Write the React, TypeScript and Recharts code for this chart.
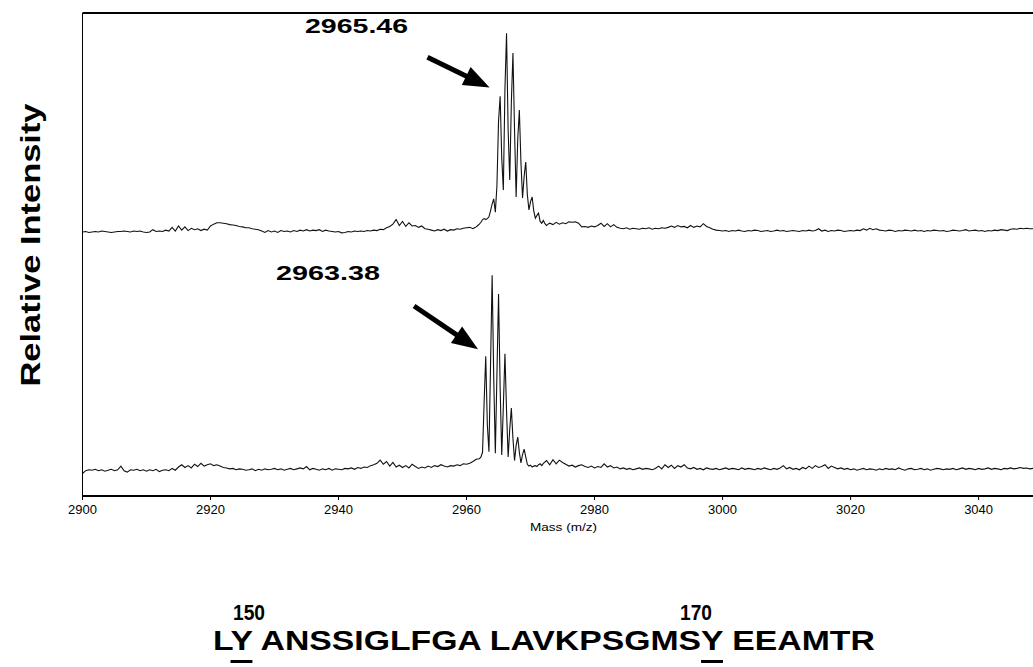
import { LineChart, Line, XAxis, YAxis, ReferenceLine } from 'recharts'

// intensity is in arbitrary units; the axis carries no numbers
const STEP = 0.5
const PEAK_STEP = 0.25

// upper spectrum (2965.46)
const topLeft = [
  539, 540, 538, 539, 540, 539, 541, 540, 539, 538, 539, 540,
  540, 541, 540, 539, 541, 540, 541, 539,
  538, 539, 544, 540, 541, 540, 543, 541,
  549, 541, 552, 543, 550, 542, 547, 544, 546, 542, 545, 543,
  552, 556, 559, 559, 558, 557, 555, 554, 553, 551, 550, 548, 548, 546, 545, 544, 541, 538, 542, 539,
  541, 538, 542, 540, 541, 539, 542, 540, 543, 541, 544, 541, 543, 542, 544, 540, 543, 541, 540, 539,
  540, 537, 538, 540, 539, 541, 540, 541, 540, 542,
  541, 543, 542, 545, 544, 548, 551, 556,
  566, 553, 562, 551, 559, 552, 553, 549, 552, 546, 545, 543,
  541, 544, 542, 545, 541, 544, 543, 546, 545, 547, 548, 549,
]
const topPeak = [
  546, 548, 550, 553, 556, 560, 566, 568, 566, 568, 572, 585,
  600, 611, 582, 640, 780, 834, 700, 630, 850, 971, 760, 652,
  820, 928, 760, 615, 740, 804, 690, 613, 660, 691, 620, 587,
  605, 615, 585, 569, 575, 580, 562, 558, 564, 557, 553, 556,
]
const topRight = [
  558, 555, 560, 556, 559, 557, 561, 560, 561, 558,
  550, 551, 549, 552, 550, 553,
  558, 551, 557, 550, 555, 549,
  547, 546, 548, 545, 547, 546, 545, 547, 546, 548, 545, 547, 546, 548, 547, 549,
  552, 549, 553, 550, 551, 548, 553, 549, 552, 550, 557, 551,
  548, 545, 543, 542,
  541, 542, 540, 542, 541, 543, 541, 540, 542, 541, 543, 542, 540, 541, 542, 540, 541, 543, 541, 542,
  540, 541, 542, 541, 540, 542, 541, 543, 541, 542,
  546, 541, 543, 540, 542, 541, 543, 542, 540, 541, 542, 541, 543, 542,
  546, 543, 547, 544, 546, 543,
  542, 541, 543, 542, 540, 542, 541, 543, 542, 541, 543, 541, 542, 540, 542, 541, 543, 542, 541, 542,
  540, 541, 543, 542, 541, 542, 544, 541, 542, 543, 541, 542, 540, 542, 541, 543, 542, 544, 543, 542,
  545, 546, 545, 547, 546, 547, 546, 546,
]

// lower spectrum (2963.38)
const bottomLeft = [
  14, 20, 22, 21, 23, 20, 22, 19, 21, 23, 20, 22,
  30, 20, 17, 22, 21, 23, 20, 22,
  19, 22, 20, 23, 18, 21, 22, 20,
  25, 21, 28, 33, 27, 31, 26, 34, 29, 36, 30, 33, 35, 31, 33, 30,
  27, 26, 24, 25, 22, 24, 23, 21, 22, 24, 20, 23, 21, 24, 22, 23, 25, 22, 24, 21, 23, 25, 22, 24,
  26, 24, 29, 22, 25, 23, 21, 24,
  22, 25, 21, 24, 23, 22, 25, 24, 26, 23, 27, 25, 28, 27, 31, 33,
  36, 43, 34, 40, 30, 38, 28, 32,
  27, 31, 26, 34, 29, 25, 28, 26, 30, 27, 31, 29, 33, 30, 28, 31,
  30, 33, 31, 35, 34, 36, 40, 45,
]
const bottomPeak = [
  46, 50, 60, 170, 269, 120, 61, 250, 445, 220, 58, 230,
  404, 200, 54, 160, 274, 150, 50, 110, 156, 90, 42, 75,
  93, 60, 37, 55, 67, 50, 34, 30, 32, 28, 30, 31, 29, 33, 35, 31,
]
const bottomRight = [
  36, 42, 33, 44, 35, 43, 38, 34,
  30, 32, 28, 31, 33, 29, 27, 30,
  26, 29, 27, 35, 28, 31, 26, 28,
  24, 26, 23, 25, 22, 24, 26, 23, 25, 24, 22, 25,
  30, 24, 33, 27, 32, 25, 31, 28, 33, 26,
  24, 27, 23, 25, 22, 26, 24, 23, 25, 22, 24, 26, 23, 25, 24, 22, 26, 23, 25, 24, 22, 25, 23, 26, 24, 22, 25, 23,
  26, 31, 24, 27, 23, 25,
  22, 27, 24, 30, 25, 31, 27, 29, 33, 25, 30, 27, 24, 26, 23, 25,
  22, 24, 21, 23, 25, 22, 24, 23, 21, 24, 22, 25, 23, 24, 22, 26, 23, 21, 24, 25,
  22, 23, 25, 22, 24, 21, 23, 25, 24, 22, 24, 23, 25, 22, 24, 26, 23, 25, 24, 22,
  25, 23, 24, 26, 23, 25, 24, 22, 25, 24, 26, 24, 25, 27, 25, 26, 24, 25,
]

const massTicks = [2900, 2920, 2940, 2960, 2980, 3000, 3020, 3040]
const intensityTicks = [0, 200, 400, 600, 800, 1000]
const MASS_DOMAIN = [2900, 3048.5]
const INTENSITY_DOMAIN = [-35, 1015]

const segment = (start: number, step: number, values: number[]) =>
  values.map((value, i) => ({ mass: start + i * step, value }))

const topSpectrum = [
  ...segment(2900, STEP, topLeft),
  ...segment(2961, PEAK_STEP, topPeak),
  ...segment(2973, STEP, topRight),
]
const bottomSpectrum = [
  ...segment(2900, STEP, bottomLeft),
  ...segment(2962, PEAK_STEP, bottomPeak),
  ...segment(2972, STEP, bottomRight),
]

// arrow: shaft plus filled head, ends given in data coords
const Arrow = (props: any) => {
  const { x1, y1, x2, y2 } = props
  const dx = x2 - x1
  const dy = y2 - y1
  const len = Math.sqrt(dx * dx + dy * dy)
  const ux = dx / len
  const uy = dy / len
  const headLen = 26
  const headHalf = 10
  const bx = x2 - ux * headLen
  const by = y2 - uy * headLen
  return (
    <g>
      <line x1={x1} y1={y1} x2={bx + ux * 2} y2={by + uy * 2} stroke="#000" strokeWidth={5} />
      <polygon
        points={`${x2},${y2} ${bx - uy * headHalf},${by + ux * headHalf} ${bx + uy * headHalf},${by - ux * headHalf}`}
        fill="#000"
      />
    </g>
  )
}

const font = 'Arial, "Liberation Sans", Helvetica, sans-serif'
const underline = { textDecoration: 'underline', textDecorationThickness: 3, textUnderlineOffset: 10 }

export default function App() {
  return (
    <div style={{ position: 'absolute', left: 0, top: 0, width: 1033, height: 667, background: '#fff', overflow: 'hidden' }}>
      <LineChart width={1033} height={540} margin={{ top: 13, right: 0, bottom: 14, left: 0 }}>
        <XAxis
          type="number"
          dataKey="mass"
          domain={MASS_DOMAIN}
          ticks={massTicks}
          interval={0}
          allowDataOverflow
          height={30}
          tickSize={4}
          tickMargin={5}
          axisLine={{ stroke: '#000', strokeWidth: 2 }}
          tickLine={{ stroke: '#000', strokeWidth: 1 }}
          tick={{ fill: '#000', fontSize: 13, fontFamily: font }}
        />
        <YAxis
          type="number"
          domain={INTENSITY_DOMAIN}
          ticks={intensityTicks}
          allowDataOverflow
          width={82.5}
          tick={false}
          tickSize={3}
          axisLine={{ stroke: '#000', strokeWidth: 1 }}
          tickLine={{ stroke: '#000', strokeWidth: 1 }}
        />
        <ReferenceLine y={1015} stroke="#000" strokeWidth={2} />
        <ReferenceLine segment={[{ x: 2953.9, y: 919 }, { x: 2963.6, y: 853 }]} shape={Arrow} />
        <ReferenceLine segment={[{ x: 2951.8, y: 378 }, { x: 2961.8, y: 284 }]} shape={Arrow} />
        <Line data={topSpectrum} dataKey="value" type="linear" stroke="#111" strokeWidth={1.1} dot={false} isAnimationActive={false} />
        <Line data={bottomSpectrum} dataKey="value" type="linear" stroke="#111" strokeWidth={1.1} dot={false} isAnimationActive={false} />
      </LineChart>
      <svg width={1033} height={667} style={{ position: 'absolute', left: 0, top: 0, pointerEvents: 'none' }}>
        <text
          x={40}
          y={245}
          transform="rotate(-90, 40, 245)"
          textAnchor="middle"
          fontFamily={font}
          fontWeight="bold"
          fontSize={28}
          textLength={283}
          lengthAdjust="spacingAndGlyphs"
        >
          Relative Intensity
        </text>
        <text x={305} y={33} fontFamily={font} fontWeight="bold" fontSize={21} textLength={103} lengthAdjust="spacingAndGlyphs">
          2965.46
        </text>
        <text x={276} y={280} fontFamily={font} fontWeight="bold" fontSize={21} textLength={104} lengthAdjust="spacingAndGlyphs">
          2963.38
        </text>
        <text x={530} y={531} fontFamily={font} fontSize={11.5} textLength={67} lengthAdjust="spacingAndGlyphs">
          Mass (m/z)
        </text>
        <text x={233} y={620} fontFamily={font} fontWeight="bold" fontSize={22} textLength={32} lengthAdjust="spacingAndGlyphs">
          150
        </text>
        <text x={680} y={620} fontFamily={font} fontWeight="bold" fontSize={22} textLength={32} lengthAdjust="spacingAndGlyphs">
          170
        </text>
      </svg>
      <div
        style={{
          position: 'absolute',
          left: 213,
          top: 627,
          fontFamily: font,
          fontWeight: 'bold',
          fontSize: 28,
          lineHeight: '28px',
          whiteSpace: 'nowrap',
          transform: 'scaleX(1.205)',
          transformOrigin: 'left top',
        }}
      >
        L<span style={underline}>Y</span> ANSSIGLFGA LAVKPSGMS<span style={underline}>Y</span> EEAMTR
      </div>
    </div>
  )
}
